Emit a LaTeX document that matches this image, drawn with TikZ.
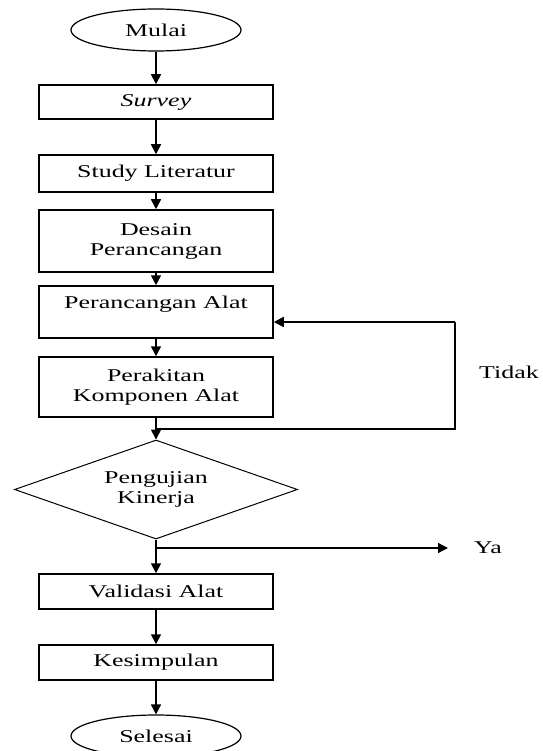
\documentclass[tikz,border=0pt]{standalone}
\usepackage{fontspec}
\setmainfont[FakeStretch=1.44]{Liberation Serif}
\usetikzlibrary{shapes.geometric,arrows.meta}
\begin{document}
\begin{tikzpicture}[x=1pt,y=-1pt,
  font=\fontsize{18}{20}\selectfont,
  box/.style={draw, line width=1.5pt, minimum width=234pt, inner sep=0pt, align=center},
  term/.style={ellipse, draw, line width=1.2pt, minimum width=170pt, minimum height=42pt, inner sep=0pt},
  dec/.style={diamond, draw, line width=1pt, shape aspect=2.85, minimum width=283pt, minimum height=99pt, inner sep=0pt, align=center},
  arr/.style={line width=1.6pt, -{Triangle[width=10pt,length=10pt]}},
  lin/.style={line width=1.6pt},
  lbl/.style={inner sep=0pt}]
\useasboundingbox (0,0) rectangle (542,751);
\node[term] (mulai) at (156,30) {Mulai};
\node[box, minimum height=34pt] (survey) at (156,102) {\textit{Survey}};
\node[box, minimum height=37pt] (study) at (156,173.5) {Study Literatur};
\node[box, minimum height=62pt] (desain) at (156,241) {Desain\\Perancangan};
\node[box, minimum height=52pt] (pa) at (156,312) {Perancangan Alat\\\mbox{}};
\node[box, minimum height=60pt] (rakit) at (156,387) {Perakitan\\Komponen Alat};
\node[dec] (uji) at (156,489.5) {Pengujian\\Kinerja};
\node[box, minimum height=35pt] (valid) at (156,591.5) {Validasi Alat};
\node[box, minimum height=35pt] (simpul) at (156,662.5) {Kesimpulan};
\node[term] (selesai) at (156,736) {Selesai};
\node[lbl] (tidak) at (509,372) {Tidak};
\node[lbl] (ya) at (488,548) {Ya};
\coordinate (j1) at (156,429);
\coordinate (lr) at (455,429);
\coordinate (lt) at (455,322);
\coordinate (j2) at (156,548);
\coordinate (yaend) at (448,548);
\draw[arr] (mulai) -- (survey);
\draw[arr] (survey) -- (study);
\draw[arr] (study) -- (desain);
\draw[arr] (desain) -- (pa);
\draw[arr] (pa) -- (rakit);
\draw[arr] (rakit) -- (uji);
\draw[arr] (uji) -- (valid);
\draw[arr] (valid) -- (simpul);
\draw[arr] (simpul) -- (selesai);
\draw[lin] (j1) -- (lr) -- (lt);
\draw[arr] (lt) -- (pa.east |- lt);
\draw[arr] (j2) -- (yaend);
\end{tikzpicture}
\end{document}
